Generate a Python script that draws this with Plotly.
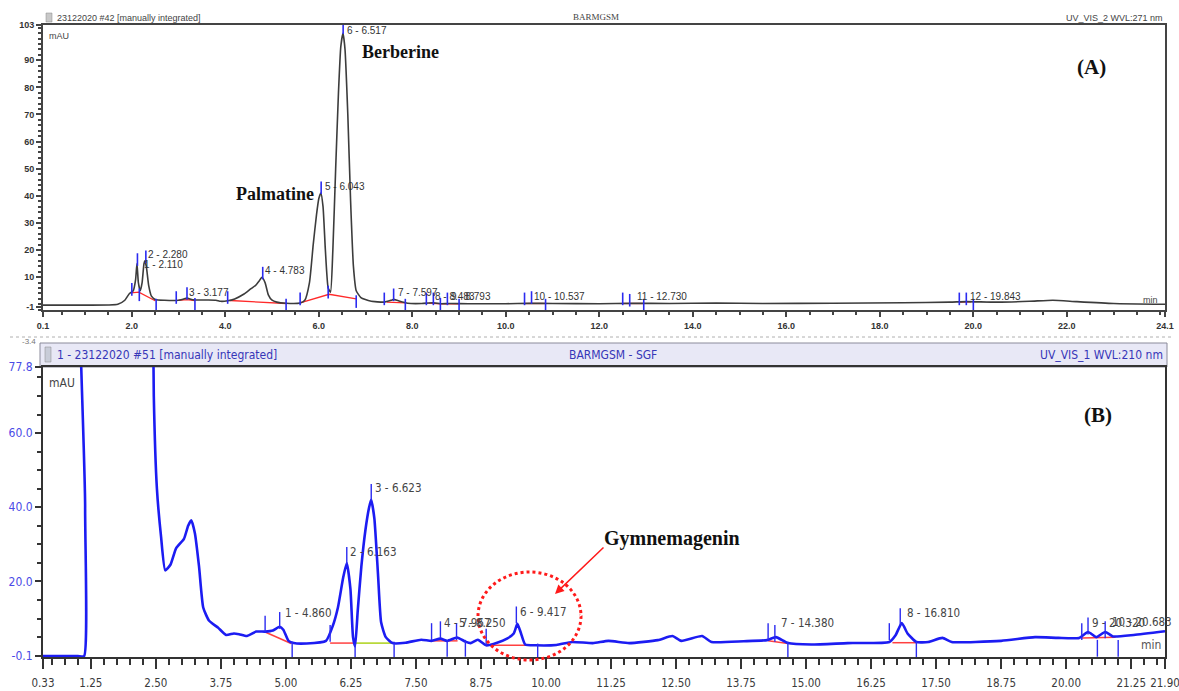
import plotly.graph_objects as go

W, H = 1179, 691
def px(x): return x / W
def py(y): return 1 - y / H

# ---------------- Panel A data (time min, mAU) ----------------
a_time = [0.1, 1.0, 1.5, 1.7, 1.85, 1.95, 2.03, 2.08, 2.11, 2.14, 2.18, 2.22, 2.26, 2.28, 2.31, 2.36,
          2.42, 2.5, 2.7, 3.0, 3.1, 3.18, 3.3, 3.6, 3.8, 3.9, 4.05, 4.2, 4.4, 4.55, 4.65, 4.72, 4.783,
          4.85, 4.92, 5.0, 5.1, 5.3, 5.6, 5.7, 5.8, 5.88, 5.95, 6.0, 6.043, 6.09, 6.14, 6.2, 6.25, 6.3,
          6.36, 6.42, 6.47, 6.517, 6.56, 6.62, 6.68, 6.74, 6.8, 6.9, 7.1, 7.4, 7.55, 7.6, 7.7, 7.9, 8.2,
          8.45, 8.6, 8.8, 9.2, 10.0, 10.5, 11.0, 12.0, 12.7, 13.5, 14.5, 15.5, 17.0, 18.5, 19.5, 19.85,
          20.5, 21.2, 21.7, 22.2, 23.0, 24.1]
a_mau = [-0.3, -0.3, -0.25, 0.0, 1.5, 4.0, 5.0, 9.0, 15.0, 8.0, 5.0, 8.0, 15.0, 16.0, 14.0, 7.0,
         3.0, 1.8, 1.5, 1.5, 1.9, 2.3, 1.7, 1.6, 1.5, 1.1, 1.3, 2.0, 3.8, 5.8, 7.0, 8.5, 10.0,
         8.0, 3.5, 1.5, 0.8, 0.4, 0.5, 1.5, 8.0, 22.0, 33.0, 39.0, 41.0, 36.0, 20.0, 6.0, 4.5, 20.0,
         50.0, 78.0, 95.0, 100.0, 94.0, 70.0, 38.0, 14.0, 5.0, 2.5, 1.2, 0.8, 1.5, 1.8, 1.3, 0.4, 0.3,
         0.6, 0.2, 0.3, 0.2, 0.2, 0.4, 0.3, 0.2, 0.4, 0.3, 0.5, 0.3, 0.4, 0.6, 0.8, 1.0,
         0.8, 1.1, 1.5, 1.0, 0.3, 0.0]

# integration baselines (None separates segments)
a_base_t = [1.98, 2.15, 2.5, None, 3.0, 3.18, 3.35, None, 4.1, 5.3, None, 5.6, 6.22, 6.8, None,
            7.45, 7.85, None, 8.35, 8.6, 9.0, None, 10.4, 10.85, None, 12.5, 12.95, None, 19.7, 19.95]
a_base_y = [4.2, 4.5, 1.3, None, 1.5, 1.7, 1.4, None, 1.4, 0.3, None, 0.5, 3.7, 2.0, None,
            0.8, 0.5, None, 0.4, 0.2, 0.2, None, 0.3, 0.3, None, 0.3, 0.3, None, 0.8, 0.9]

# peak delimiter tick marks
a_tick_t = [2.0, 2.12, 2.16, 2.3, 2.52, 2.95, 3.18, 3.35, 4.05, 4.8, 5.3, 5.6, 6.05, 6.2, 6.52, 6.8,
            7.4, 7.6, 7.85, 8.3, 8.45, 8.6, 8.75, 9.0, 10.4, 10.55, 10.85, 12.5, 12.65, 12.95,
            19.7, 19.85, 20.0]
a_tick_y = [5.5, 16.5, 3.5, 17.5, -0.3, 2.5, 4.0, 0.0, 2.5, 11.5, -0.3, 2.0, 43.0, 4.5, 102.0, 1.0,
            2.0, 3.5, -0.3, 2.0, 2.0, 0.0, 2.0, -0.3, 2.0, 2.5, -0.3, 2.0, 1.5, -0.3,
            2.0, 2.0, -0.3]

a_labels = ["1 - 2.110", "2 - 2.280", "3 - 3.177", "4 - 4.783", "5 - 6.043", "6 - 6.517",
            "7 - 7.597", "8 - 8.483", "9 - 8.793", "10 - 10.537", "11 - 12.730", "12 - 19.843"]
a_label_t = [2.21, 2.31, 3.18, 4.81, 6.09, 6.55, 7.65, 8.45, 8.78, 10.56, 12.77, 19.89]
a_label_y = [14.5, 18.3, 4.3, 12.6, 43.6, 100.8, 4.3, 2.8, 2.8, 2.8, 2.8, 3.0]

a_xticks = [0.1, 2.0, 4.0, 6.0, 8.0, 10.0, 12.0, 14.0, 16.0, 18.0, 20.0, 22.0, 24.1]
a_xtick_text = ["0.1", "2.0", "4.0", "6.0", "8.0", "10.0", "12.0", "14.0", "16.0", "18.0", "20.0", "22.0", "24.1"]
a_yticks = [103, 90, 80, 70, 60, 50, 40, 30, 20, 10, -1]
a_ytick_text = ["103", "90", "80", "70", "60", "50", "40", "30", "20", "10", "-1"]

# ---------------- Panel B data ----------------
b_time = [0.33, 1.0, 1.12, 1.14, 1.16, 2.41, 2.43, 2.46, 2.52, 2.6, 2.68, 2.78, 2.89, 3.04, 3.12, 3.18,
          3.25, 3.33, 3.41, 3.52, 3.70, 3.85, 4.0, 4.1, 4.25, 4.43, 4.6, 4.75, 4.88, 4.95, 5.05, 5.15,
          5.4, 5.77, 5.9, 6.0, 6.1, 6.17, 6.24, 6.29, 6.33, 6.38, 6.45, 6.53, 6.6, 6.64, 6.7, 6.77,
          6.83, 6.92, 7.05, 7.3, 7.6, 7.8, 7.97, 8.1, 8.29, 8.45, 8.55, 8.69, 8.85, 9.06, 9.25, 9.38,
          9.45, 9.52, 9.6, 9.8, 10.2, 10.5, 10.9, 11.2, 11.6, 12.15, 12.43, 12.6, 13.0, 13.18, 13.8,
          14.25, 14.42, 14.65, 15.1, 15.8, 16.6, 16.72, 16.84, 16.95, 17.12, 17.35, 17.62, 17.8,
          18.75, 19.4, 19.85, 20.25, 20.42, 20.58, 20.75, 20.9, 21.3, 21.9]
b_mau = [-0.1, -0.1, -0.1, 40.0, 200.0, 200.0, 120.0, 70.0, 45.0, 32.0, 23.0, 24.5, 29.0, 31.5, 35.0, 36.5,
         33.0, 24.0, 13.0, 9.5, 7.5, 5.6, 6.0, 5.8, 5.3, 6.5, 6.5, 6.8, 7.8, 7.0, 4.0, 3.4,
         3.3, 4.0, 8.0, 13.0, 21.0, 25.0, 18.0, 5.0, 2.5, 12.0, 24.0, 34.0, 40.0, 42.0, 37.0, 22.0,
         9.0, 5.0, 3.4, 3.5, 4.3, 4.0, 4.6, 4.0, 4.9, 3.8, 3.4, 4.3, 2.8, 3.5, 4.6, 6.0,
         8.6, 6.0, 3.0, 2.8, 2.9, 3.7, 3.4, 4.0, 3.4, 4.2, 5.3, 4.0, 5.3, 3.7, 3.9,
         4.2, 5.0, 3.4, 3.0, 3.4, 3.7, 5.5, 8.8, 6.0, 3.7, 3.7, 4.8, 3.7,
         4.0, 5.0, 4.8, 4.8, 6.4, 5.0, 6.4, 5.2, 5.6, 6.6]

b_base_t = [4.6, 5.1, None, 5.85, 6.3, None, 7.8, 8.3, None, 8.85, 9.85, None, 14.27, 14.65, None,
            16.66, 17.12, None, 20.3, 20.95]
b_base_y = [6.4, 3.3, None, 3.4, 3.4, None, 4.0, 4.0, None, 2.8, 2.8, None, 4.0, 3.3, None,
            3.5, 3.5, None, 4.8, 5.0]
b_base2_t = [6.33, 7.08]
b_base2_y = [3.4, 3.4]

b_tick_t = [4.6, 4.88, 5.12, 5.85, 6.17, 6.33, 6.64, 7.08, 7.8, 7.97, 8.1, 8.28, 8.45, 8.85, 9.43, 9.84,
            14.27, 14.4, 14.65, 16.6, 16.81, 17.12, 20.3, 20.42, 20.6, 20.75, 21.0]
b_tick_y = [8.5, 9.5, 1.5, 6.0, 27.0, 1.0, 44.0, 1.5, 6.5, 7.0, 2.0, 6.5, 2.0, 5.0, 11.0, 1.0,
            6.5, 6.0, 1.5, 6.5, 10.5, 1.5, 6.5, 8.0, 2.0, 7.0, 2.0]

b_labels = ["1 - 4.860", "2 - 6.163", "3 - 6.623", "4 - 7.967", "5 - 8.250", "6 - 9.417",
            "7 - 14.380", "8 - 16.810", "9 - 20.320", "10 - 20.683"]
b_label_t = [4.95, 6.2, 6.68, 8.0, 8.29, 9.47, 14.48, 16.9, 20.45, 20.85]
b_label_y = [11.5, 27.9, 45.2, 8.8, 8.8, 11.8, 8.8, 11.5, 8.8, 9.2]

b_xticks = [0.33, 1.25, 2.50, 3.75, 5.00, 6.25, 7.50, 8.75, 10.00, 11.25, 12.50, 13.75, 15.00,
            16.25, 17.50, 18.75, 20.00, 21.25, 21.90]
b_xtick_text = ["0.33", "1.25", "2.50", "3.75", "5.00", "6.25", "7.50", "8.75", "10.00", "11.25",
                "12.50", "13.75", "15.00", "16.25", "17.50", "18.75", "20.00", "21.25", "21.90"]
b_yticks = [77.8, 60.0, 40.0, 20.0, -0.1]
b_ytick_text = ["77.8", "60.0", "40.0", "20.0", "-0.1"]

# ---------------- Figure ----------------
NARROW = "DejaVu Sans Condensed, Liberation Sans Narrow, Liberation Sans"
BLUE_MARK = "#2b2bf0"
fig = go.Figure()

fig.add_trace(go.Scatter(x=a_base_t, y=a_base_y, mode="lines", line=dict(color="#ff2a2a", width=1.3),
                         xaxis="x", yaxis="y", hoverinfo="skip"))
fig.add_trace(go.Scatter(x=a_time, y=a_mau, mode="lines",
                         line=dict(color="#3c3c3c", width=1.6, shape="spline", smoothing=0.5),
                         xaxis="x", yaxis="y"))
fig.add_trace(go.Scatter(x=a_tick_t, y=a_tick_y, mode="markers", xaxis="x", yaxis="y",
                         marker=dict(symbol="line-ns", size=9, line=dict(width=1.6, color=BLUE_MARK)),
                         hoverinfo="skip"))

fig.add_trace(go.Scatter(x=b_base_t, y=b_base_y, mode="lines", line=dict(color="#ff4040", width=1.5),
                         xaxis="x2", yaxis="y2", hoverinfo="skip"))
fig.add_trace(go.Scatter(x=b_base2_t, y=b_base2_y, mode="lines", line=dict(color="#b8d83a", width=1.8),
                         xaxis="x2", yaxis="y2", hoverinfo="skip"))
fig.add_trace(go.Scatter(x=b_time, y=b_mau, mode="lines",
                         line=dict(color="#1c1cf2", width=2.6, shape="spline", smoothing=0.5),
                         xaxis="x2", yaxis="y2"))
fig.add_trace(go.Scatter(x=b_tick_t, y=b_tick_y, mode="markers", xaxis="x2", yaxis="y2",
                         marker=dict(symbol="line-ns", size=12, line=dict(width=1.4, color=BLUE_MARK)),
                         hoverinfo="skip"))

axis_a_font = dict(family="Liberation Sans", size=9, color="#333333", weight="bold")
fig.update_layout(
    template="none",
    width=W, height=H, margin=dict(l=0, r=0, t=0, b=0, autoexpand=False),
    paper_bgcolor="white", plot_bgcolor="white", showlegend=False,
    xaxis=dict(domain=[px(43), px(1165)], anchor="y", range=[0.1, 24.1], automargin=False,
               tickmode="array", tickvals=a_xticks, ticktext=a_xtick_text, ticklabeloverflow="allow",
               ticks="outside", ticklen=5, tickwidth=1.5, tickcolor="#444",
               minor=dict(tickmode="linear", tick0=0, dtick=0.5, ticks="outside", ticklen=3, tickcolor="#444"),
               showline=True, linecolor="#444", linewidth=2, mirror=True,
               showgrid=False, zeroline=False, tickfont=axis_a_font, ticklabelstandoff=1),
    yaxis=dict(domain=[py(310), py(25)], anchor="x", range=[-2.1, 103], automargin=False,
               tickmode="array", tickvals=a_yticks, ticktext=a_ytick_text, ticklabeloverflow="allow",
               ticks="outside", ticklen=5, tickwidth=1.5, tickcolor="#444",
               minor=dict(tickmode="linear", tick0=0, dtick=2, ticks="outside", ticklen=3, tickcolor="#444"),
               showline=True, linecolor="#444", linewidth=2, mirror=True,
               showgrid=False, zeroline=False, tickfont=axis_a_font),
    xaxis2=dict(domain=[px(43), px(1165)], anchor="y2", range=[0.33, 21.90], automargin=False,
                tickmode="array", tickvals=b_xticks, ticktext=b_xtick_text, ticklabeloverflow="allow",
                ticks="outside", ticklen=10, tickwidth=1.5, tickcolor="#333",
                minor=dict(tickmode="linear", tick0=0, dtick=0.25, ticks="outside", ticklen=6, tickcolor="#333"),
                showline=True, linecolor="#333", linewidth=2, mirror=True,
                showgrid=False, zeroline=False, ticklabelstandoff=4,
                tickfont=dict(family=NARROW, size=11.5, color="#3a3a3a")),
    yaxis2=dict(domain=[py(657), py(367)], anchor="x2", range=[-0.35, 77.8], automargin=False,
                tickmode="array", tickvals=b_yticks, ticktext=b_ytick_text, ticklabeloverflow="allow",
                ticks="outside", ticklen=6, tickwidth=1.5, tickcolor="#333",
                minor=dict(tickmode="linear", tick0=0, dtick=5, ticks="outside", ticklen=4, tickcolor="#333"),
                showline=True, linecolor="#333", linewidth=2, mirror=True,
                showgrid=False, zeroline=False,
                tickfont=dict(family=NARROW, size=12, color="#4a4ae6")),
)

shapes = [
    # separator
    dict(type="line", xref="paper", yref="paper", x0=px(10), x1=px(1172), y0=py(337), y1=py(337),
         line=dict(color="#b0b0b0", width=1, dash="dot")),
    # B header bar
    dict(type="rect", xref="paper", yref="paper", x0=px(40), x1=px(1167), y0=py(367), y1=py(343),
         fillcolor="#e8e8f6", line=dict(color="#8a8a9a", width=1), layer="below"),
    # dotted red circle
    dict(type="circle", xref="paper", yref="paper", x0=px(478), x1=px(581), y0=py(660), y1=py(572),
         line=dict(color="#ff1a1a", width=3, dash="dot")),
    # header icons
    dict(type="rect", xref="paper", yref="paper", x0=px(46), x1=px(52), y0=py(22), y1=py(13),
         fillcolor="#c8c8c8", line=dict(color="#888", width=0.5)),
    dict(type="rect", xref="paper", yref="paper", x0=px(45), x1=px(51), y0=py(362), y1=py(347),
         fillcolor="#c8ccd8", line=dict(color="#888", width=0.5)),
]
fig.update_layout(shapes=shapes)

ann = []
def text(x, y, s, size, color, family="Liberation Sans", xanchor="left", yanchor="middle"):
    ann.append(dict(x=px(x), y=py(y), xref="paper", yref="paper", text=s, showarrow=False,
                    xanchor=xanchor, yanchor=yanchor,
                    font=dict(family=family, size=size, color=color)))

# headers
text(55, 18, "23122020 #42 [manually integrated]", 9, "#444444")
text(596, 17, "BARMGSM", 9, "#444444", family="Liberation Serif", xanchor="center")
text(1165, 18, "UV_VIS_2 WVL:271 nm", 9, "#444444", xanchor="right")
text(55, 355, "1 - 23122020 #51 [manually integrated]", 12, "#3636b8", family=NARROW)
text(613, 355, "BARMGSM - SGF", 12, "#3636b8", family=NARROW, xanchor="center")
text(1165, 355, "UV_VIS_1 WVL:210 nm", 12, "#3636b8", family=NARROW, xanchor="right")
text(38, 341, "-3.4", 8, "#777777", xanchor="right")

# axis unit labels
text(47, 36, "mAU", 9, "#444444")
text(1160, 300, "min", 9, "#444444", xanchor="right")
text(47, 383, "mAU", 12, "#444444", family=NARROW)
text(1163, 645, "min", 12, "#555555", family=NARROW, xanchor="right")

# compound names / panel letters
text(400, 52, "<b>Berberine</b>", 18, "#111111", family="Liberation Serif", xanchor="center")
text(316, 194, "<b>Palmatine</b>", 18, "#111111", family="Liberation Serif", xanchor="right")
text(1091, 67, "<b>(A)</b>", 21, "#111111", family="Liberation Serif", xanchor="center")
text(1098, 415, "<b>(B)</b>", 21, "#111111", family="Liberation Serif", xanchor="center")
text(602, 538, "<b>Gymnemagenin</b>", 20, "#111111", family="Liberation Serif")

# arrow to gymnemagenin peak
ann.append(dict(x=px(555), y=py(594), xref="paper", yref="paper", ax=50, ay=-48, axref="pixel", ayref="pixel",
                text="", showarrow=True, arrowhead=2, arrowsize=1.2, arrowwidth=1.5, arrowcolor="#ff1a1a"))

# peak labels
for s, t, v in zip(a_labels, a_label_t, a_label_y):
    ann.append(dict(x=t, y=v, xref="x", yref="y", text=s, showarrow=False, xanchor="left", yanchor="middle",
                    font=dict(family="Liberation Sans", size=10, color="#333333")))
for s, t, v in zip(b_labels, b_label_t, b_label_y):
    ann.append(dict(x=t, y=v, xref="x2", yref="y2", text=s, showarrow=False, xanchor="left", yanchor="middle",
                    font=dict(family=NARROW, size=11.5, color="#444444")))

fig.update_layout(annotations=ann)
fig.write_html("out.html", config={"displayModeBar": False},
               post_script="document.body.style.margin='0';document.body.style.overflow='hidden';")
